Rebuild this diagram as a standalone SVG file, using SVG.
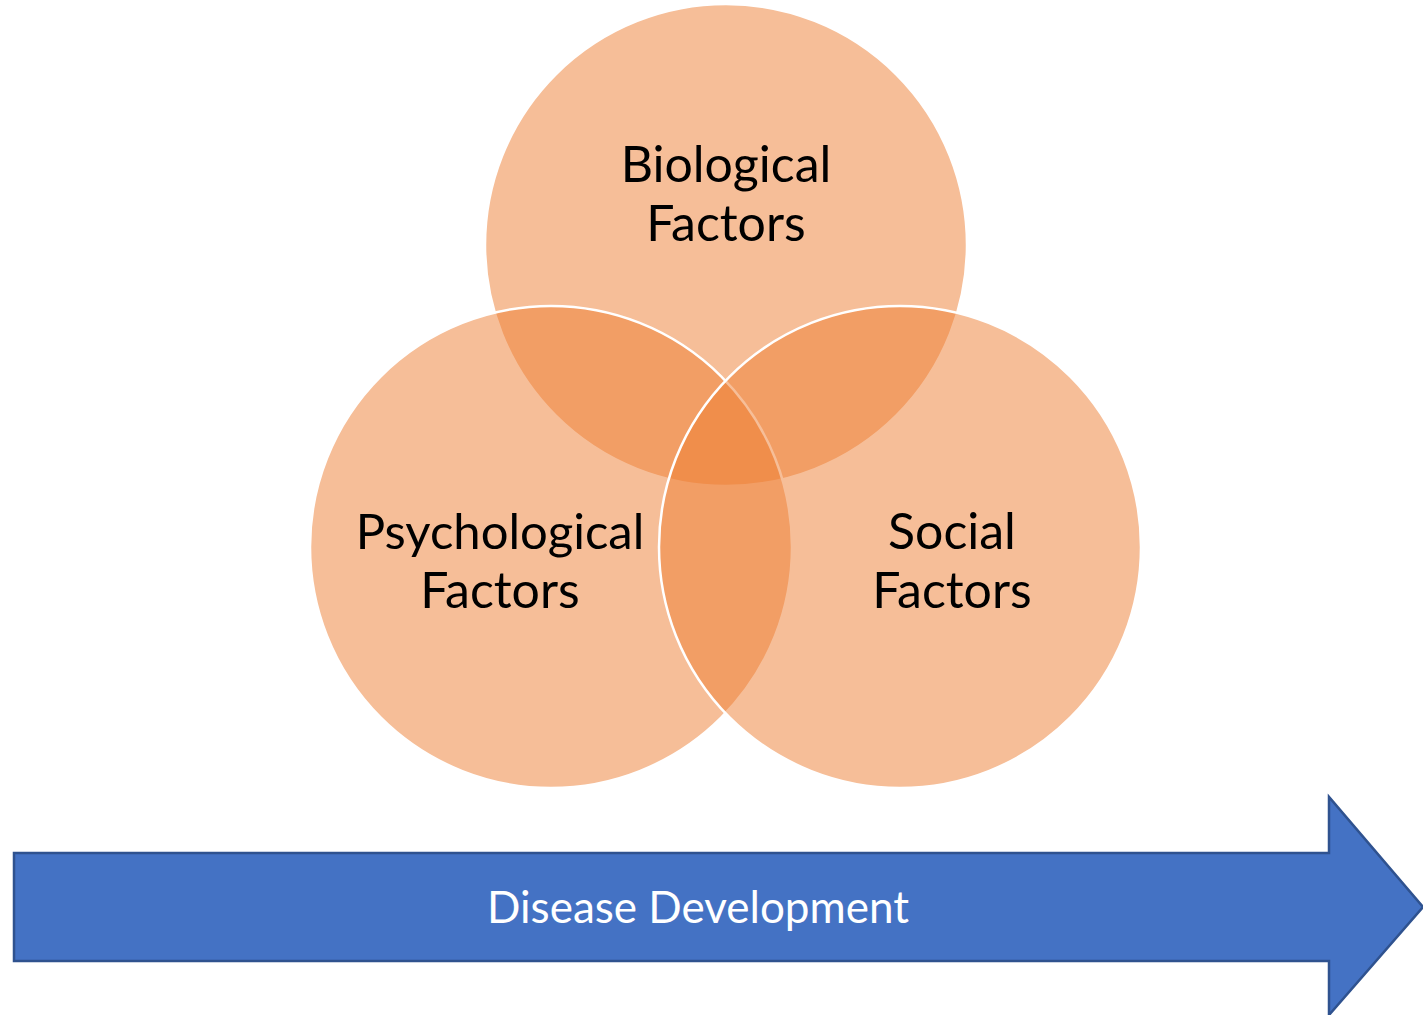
<svg xmlns="http://www.w3.org/2000/svg" width="1423" height="1015" viewBox="0 0 1423 1015">
<style>
.c{fill:#ED7D31;fill-opacity:0.5;stroke:#fff;stroke-width:2.5}
.t{font-family:Lato,"Liberation Sans",sans-serif;font-size:50px;fill:#000;text-anchor:middle}
.a{font-family:Lato,"Liberation Sans",sans-serif;font-size:44px;fill:#fff;text-anchor:middle}
</style>
<rect width="1423" height="1015" fill="#fff"/>
<g id="arrow">
<path d="M14,853 H1329 V797 L1423,907 L1329,1015 V961 H14 Z" fill="#4472C4" stroke="#2F528F" stroke-width="2.5"/>
<text class="a" x="698" y="923">Disease Development</text>
</g>
<g id="biological"><circle class="c" cx="726" cy="245" r="241"/></g>
<g id="psychological"><circle class="c" cx="551" cy="547" r="241"/></g>
<g id="social"><circle class="c" cx="900" cy="547" r="241"/></g>
<g id="labels">
<text class="t" x="726" y="182">Biological</text>
<text class="t" x="726" y="241">Factors</text>
<text class="t" x="500" y="549" style="font-size:49px">Psychological</text>
<text class="t" x="500" y="608">Factors</text>
<text class="t" x="952" y="549">Social</text>
<text class="t" x="952" y="608">Factors</text>
</g>
</svg>
